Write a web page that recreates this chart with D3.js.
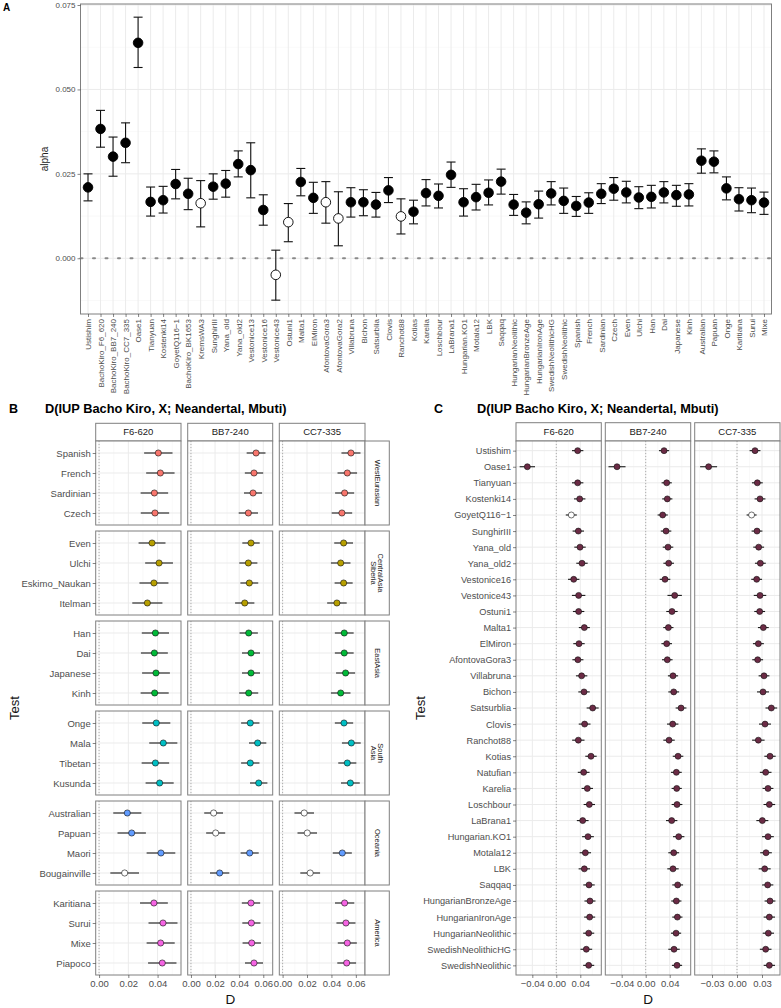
<!DOCTYPE html>
<html><head><meta charset="utf-8">
<script src="https://cdn.jsdelivr.net/npm/d3@7"></script>
<style>body{margin:0;background:#fff;} svg{display:block;font-family:"Liberation Sans",Arial,Helvetica,sans-serif;}</style>
</head><body><svg id="c" width="781" height="1008"></svg>
<script>
// ---------------- DATA ----------------
const catsA = ["Ustishim","BachoKiro_F6_620","BachoKiro_BB7_240","BachoKiro_CC7_335","Oase1","Tianyuan","Kostenki14","GoyetQ116\u22121","BachoKiro_BK1653","KremsWA3","SunghirIII","Yana_old","Yana_old2","Vestonice13","Vestonice16","Vestonice43","Ostuni1","Malta1","ElMiron","AfontovaGora3","AfontovaGora2","Villabruna","Bichon","Satsurblia","Clovis","Ranchot88","Kotias","Karelia","Loschbour","LaBrana1","Hungarian.KO1","Motala12","LBK","Saqqaq","HungarianNeolithic","HungarianBronzeAge","HungarianIronAge","SwedishNeolithicHG","SwedishNeolithic","Spanish","French","Sardinian","Czech","Even","Ulchi","Han","Dai","Japanese","Kinh","Australian","Papuan","Onge","Karitiana","Surui","Mixe"];
const alphaEst = [0.0210,0.0383,0.0301,0.0342,0.0638,0.0167,0.0172,0.0220,0.0191,0.0163,0.0212,0.0221,0.0279,0.0261,0.0143,-0.0049,0.0107,0.0226,0.0179,0.0166,0.0118,0.0166,0.0166,0.0159,0.0201,0.0124,0.0138,0.0193,0.0185,0.0247,0.0166,0.0181,0.0194,0.0227,0.0159,0.0135,0.0160,0.0192,0.0170,0.0155,0.0165,0.0191,0.0206,0.0195,0.0180,0.0182,0.0195,0.0187,0.0189,0.0289,0.0286,0.0207,0.0175,0.0172,0.0165];
const alphaLo = [0.0170,0.0329,0.0243,0.0283,0.0565,0.0125,0.0134,0.0176,0.0144,0.0093,0.0175,0.0181,0.0241,0.0179,0.0098,-0.0124,0.0049,0.0185,0.0133,0.0104,0.0037,0.0122,0.0126,0.0122,0.0165,0.0072,0.0102,0.0155,0.0149,0.0210,0.0125,0.0143,0.0158,0.0190,0.0127,0.0102,0.0119,0.0158,0.0133,0.0124,0.0133,0.0162,0.0172,0.0164,0.0147,0.0149,0.0164,0.0154,0.0155,0.0252,0.0253,0.0173,0.0140,0.0135,0.0130];
const alphaHi = [0.0250,0.0438,0.0359,0.0401,0.0714,0.0211,0.0213,0.0263,0.0237,0.0230,0.0250,0.0260,0.0318,0.0342,0.0188,0.0024,0.0162,0.0266,0.0225,0.0227,0.0197,0.0209,0.0203,0.0195,0.0239,0.0176,0.0172,0.0233,0.0220,0.0285,0.0206,0.0219,0.0232,0.0264,0.0189,0.0167,0.0199,0.0227,0.0208,0.0183,0.0194,0.0221,0.0239,0.0228,0.0212,0.0216,0.0227,0.0216,0.0221,0.0324,0.0318,0.0241,0.0209,0.0208,0.0196];
const nonsigA = ["KremsWA3","Vestonice43","Ostuni1","AfontovaGora3","AfontovaGora2","Ranchot88"];
const ticksA = [0, 0.025, 0.05, 0.075];

const samples = ["F6-620","BB7-240","CC7-335"];
const regions = ["WestEurasian","CentralAsia\nSiberia","EastAsia","South\nAsia","Oceania","America"];
const regionColors = ["#F8766D","#B79F00","#00BA38","#00BFC4","#619CFF","#F564E3"];
const popsB = [["Spanish","French","Sardinian","Czech"],["Even","Ulchi","Eskimo_Naukan","Itelman"],["Han","Dai","Japanese","Kinh"],["Onge","Mala","Tibetan","Kusunda"],["Australian","Papuan","Maori","Bougainville"],["Karitiana","Surui","Mixe","Piapoco"]];
const estB_F6 = [0.0405,0.0419,0.0378,0.0382, 0.0362,0.0410,0.0375,0.0330, 0.0385,0.0378,0.0389,0.0380, 0.0391,0.0439,0.0385,0.0414, 0.0193,0.0223,0.0423,0.0175, 0.0375,0.0437,0.0421,0.0432];
const errB_F6 = [0.0097,0.0097,0.0094,0.0097, 0.0092,0.0095,0.0099,0.0103, 0.0093,0.0092,0.0095,0.0096, 0.0096,0.0096,0.0094,0.0096, 0.0096,0.0097,0.0098,0.0098, 0.0095,0.0099,0.0096,0.0097];
const estB_BB7 = [0.0540,0.0523,0.0515,0.0476, 0.0498,0.0476,0.0484,0.0446, 0.0479,0.0498,0.0498,0.0479, 0.0492,0.0553,0.0492,0.0562, 0.0188,0.0205,0.0487,0.0238, 0.0498,0.0501,0.0504,0.0523];
const errB_BB7 = [0.0078,0.0076,0.0075,0.0080, 0.0072,0.0075,0.0074,0.0080, 0.0076,0.0075,0.0075,0.0079, 0.0076,0.0072,0.0076,0.0072, 0.0078,0.0079,0.0075,0.0080, 0.0076,0.0075,0.0076,0.0075];
const estB_CC7 = [0.0560,0.0530,0.0508,0.0486, 0.0500,0.0476,0.0500,0.0445, 0.0505,0.0505,0.0516,0.0476, 0.0503,0.0563,0.0530,0.0555, 0.0177,0.0202,0.0489,0.0226, 0.0508,0.0519,0.0530,0.0525];
const errB_CC7 = [0.0078,0.0080,0.0078,0.0084, 0.0077,0.0080,0.0074,0.0080, 0.0077,0.0077,0.0078,0.0080, 0.0075,0.0077,0.0074,0.0077, 0.0080,0.0080,0.0078,0.0081, 0.0079,0.0078,0.0078,0.0077];
const nonsigB_F6 = ["Bougainville"];
const nonsigB_BB7 = ["Australian","Papuan"];
const nonsigB_CC7 = ["Australian","Papuan","Bougainville"];
const ticksB = [0, 0.02, 0.04, 0.06];

const catsC = ["Ustishim","Oase1","Tianyuan","Kostenki14","GoyetQ116\u22121","SunghirIII","Yana_old","Yana_old2","Vestonice16","Vestonice43","Ostuni1","Malta1","ElMiron","AfontovaGora3","Villabruna","Bichon","Satsurblia","Clovis","Ranchot88","Kotias","Natufian","Karelia","Loschbour","LaBrana1","Hungarian.KO1","Motala12","LBK","Saqqaq","HungarianBronzeAge","HungarianIronAge","HungarianNeolithic","SwedishNeolithicHG","SwedishNeolithic"];
const estC_F6 = [0.0356,-0.0483,0.0356,0.0390,0.0250,0.0367,0.0395,0.0428,0.0290,0.0372,0.0372,0.0467,0.0378,0.0360,0.0422, 0.0462,0.0606,0.0472,0.0367,0.0578,0.0456,0.0517,0.0550,0.0440,0.0528,0.0484,0.0467,0.0545,0.0561,0.0556,0.0540,0.0500,0.0540];
const errC_F6 = [0.0095,0.0128,0.0095,0.0095,0.0092,0.0095,0.0095,0.0095,0.0095,0.0112,0.0095,0.0092,0.0095,0.0092,0.0095, 0.0095,0.0100,0.0098,0.0103,0.0095,0.0098,0.0095,0.0095,0.0098,0.0098,0.0095,0.0095,0.0095,0.0092,0.0092,0.0092,0.0098,0.0092];
const estC_BB7 = [0.0306,-0.0478,0.0350,0.0360,0.0283,0.0339,0.0372,0.0383,0.0322,0.0483,0.0438,0.0378,0.0350,0.0360,0.0455, 0.0467,0.0589,0.0450,0.0389,0.0539,0.0511,0.0517,0.0522,0.0433,0.0550,0.0467,0.0455,0.0533,0.0511,0.0528,0.0506,0.0472,0.0522];
const errC_BB7 = [0.0085,0.0142,0.0085,0.0085,0.0085,0.0088,0.0088,0.0088,0.0088,0.0120,0.0095,0.0085,0.0088,0.0088,0.0085, 0.0090,0.0090,0.0095,0.0095,0.0088,0.0090,0.0085,0.0090,0.0095,0.0095,0.0090,0.0095,0.0090,0.0085,0.0085,0.0085,0.0095,0.0085];
const estC_CC7 = [0.0216,-0.0341,0.0244,0.0276,0.0175,0.0240,0.0260,0.0280,0.0236,0.0276,0.0272,0.0316,0.0256,0.0248,0.0324, 0.0312,0.0412,0.0336,0.0256,0.0396,0.0344,0.0372,0.0388,0.0304,0.0372,0.0348,0.0332,0.0368,0.0396,0.0388,0.0376,0.0344,0.0388];
const errC_CC7 = [0.0065,0.0102,0.0065,0.0065,0.0060,0.0065,0.0065,0.0065,0.0065,0.0075,0.0065,0.0065,0.0065,0.0065,0.0065, 0.0072,0.0070,0.0072,0.0075,0.0068,0.0070,0.0065,0.0070,0.0072,0.0070,0.0070,0.0072,0.0068,0.0065,0.0068,0.0068,0.0070,0.0068];
const nonsigC_F6 = ["GoyetQ116\u22121"];
const nonsigC_BB7 = [];
const nonsigC_CC7 = ["GoyetQ116\u22121"];
const ticksC = [[-0.04,0,0.04],[-0.04,0,0.04],[-0.03,0,0.03]];
const colorC = "#6b2b45";

// ---------------- DRAW ----------------
const svg = d3.select("#c");
const TXT = "#4d4d4d", GRID = "#ebebeb", GRIDMIN = "#f5f5f5", BORDER = "#7f7f7f";

function hline(g, x0, x1, y, col, w) {
  g.append("line").attr("x1",x0).attr("x2",x1).attr("y1",y).attr("y2",y).attr("stroke",col).attr("stroke-width",w);
}
function vline(g, x, y0, y1, col, w) {
  g.append("line").attr("x1",x).attr("x2",x).attr("y1",y0).attr("y2",y1).attr("stroke",col).attr("stroke-width",w);
}
function styleAxis(ax, size) {
  ax.select(".domain").remove();
  ax.selectAll(".tick line").attr("stroke","#333").attr("stroke-width",0.6);
  ax.selectAll(".tick text").attr("fill",TXT).style("font-size",size+"px").style("font-family","Liberation Sans, Arial, sans-serif");
}

// ======== Panel A ========
const A = {x0:80.5, x1:771.5, y0:4, y1:314};
const xA = d3.scalePoint().domain(catsA).range([A.x0, A.x1]).padding(0.6);
const yA = d3.scaleLinear().domain([-0.0165, 0.0753]).range([A.y1, A.y0]);
const gA = svg.append("g");
[-0.0125, 0.0125, 0.0375, 0.0625].forEach(v => hline(gA, A.x0, A.x1, yA(v), GRIDMIN, 0.6));
ticksA.forEach(v => hline(gA, A.x0, A.x1, yA(v), GRID, 1));
catsA.forEach(c => vline(gA, xA(c), A.y0, A.y1, GRID, 1));
gA.append("line").attr("x1",A.x0).attr("x2",A.x1).attr("y1",yA(0)).attr("y2",yA(0))
  .attr("stroke","#8a8a8a").attr("stroke-width",2).attr("stroke-dasharray","2,10.5").attr("stroke-linecap","round");
catsA.forEach((c,i) => {
  const x = xA(c);
  vline(gA, x, yA(alphaLo[i]), yA(alphaHi[i]), "#111", 1.1);
  hline(gA, x-4.5, x+4.5, yA(alphaLo[i]), "#111", 1.1);
  hline(gA, x-4.5, x+4.5, yA(alphaHi[i]), "#111", 1.1);
  gA.append("circle").attr("cx",x).attr("cy",yA(alphaEst[i])).attr("r",4.8)
    .attr("fill", nonsigA.includes(c) ? "#fff" : "#000").attr("stroke","#000").attr("stroke-width",0.9);
});
gA.append("rect").attr("x",A.x0).attr("y",A.y0).attr("width",A.x1-A.x0).attr("height",A.y1-A.y0)
  .attr("fill","none").attr("stroke",BORDER).attr("stroke-width",1);
const axAy = gA.append("g").attr("transform",`translate(${A.x0},0)`)
  .call(d3.axisLeft(yA).tickValues(ticksA).tickFormat(d3.format(".3f")).tickSize(3).tickPadding(2));
styleAxis(axAy, 8);
const axAx = gA.append("g").attr("transform",`translate(0,${A.y1})`)
  .call(d3.axisBottom(xA).tickSize(3));
styleAxis(axAx, 8);
axAx.selectAll(".tick text").attr("transform","rotate(-90)").attr("x",-5).attr("y",0).attr("dy","0.35em").style("text-anchor","end");
svg.append("text").attr("transform",`translate(48,${(A.y0+A.y1)/2}) rotate(-90)`).attr("text-anchor","middle")
  .attr("fill","#222").style("font-size","10px").text("alpha");
svg.append("text").attr("x",3).attr("y",11).style("font-size","10px").style("font-weight","bold").attr("fill","#000").text("A");

// ======== facet helper ========
function drawFacet(g, box, xs, cats, est, err, fills, openList, r, majorX, minorX, axisLeft, axisBottom, ticks, fmt, lblSize) {
  const ys = d3.scalePoint().domain(cats).range([box.y0, box.y1]).padding(0.6);
  g.append("rect").attr("x",box.x0).attr("y",box.y0).attr("width",box.x1-box.x0).attr("height",box.y1-box.y0).attr("fill","#fff");
  minorX.forEach(v => vline(g, xs(v), box.y0, box.y1, GRIDMIN, 0.6));
  majorX.forEach(v => vline(g, xs(v), box.y0, box.y1, GRID, 1));
  cats.forEach(c => hline(g, box.x0, box.x1, ys(c), GRID, 1));
  g.append("line").attr("x1",xs(0)).attr("x2",xs(0)).attr("y1",box.y0).attr("y2",box.y1)
    .attr("stroke","#9a9a9a").attr("stroke-width",0.8).attr("stroke-dasharray","1,2");
  cats.forEach((c,i) => {
    const y = ys(c);
    hline(g, xs(est[i]-err[i]), xs(est[i]+err[i]), y, "#1a1a1a", 1.1);
    g.append("circle").attr("cx",xs(est[i])).attr("cy",y).attr("r",r)
      .attr("fill", openList.includes(c) ? "#fff" : fills).attr("stroke","#111").attr("stroke-width",0.6);
  });
  g.append("rect").attr("x",box.x0).attr("y",box.y0).attr("width",box.x1-box.x0).attr("height",box.y1-box.y0)
    .attr("fill","none").attr("stroke",BORDER).attr("stroke-width",1);
  if (axisLeft) {
    const ax = g.append("g").attr("transform",`translate(${box.x0},0)`).call(d3.axisLeft(ys).tickSize(3).tickPadding(2));
    styleAxis(ax, lblSize);
  }
  if (axisBottom) {
    const ax = g.append("g").attr("transform",`translate(0,${box.y1})`).call(d3.axisBottom(xs).tickValues(ticks).tickFormat(fmt).tickSize(3).tickPadding(2));
    styleAxis(ax, 9.5);
  }
}
function strip(g, x0, y0, w, h, label, rotate, size) {
  g.append("rect").attr("x",x0).attr("y",y0).attr("width",w).attr("height",h).attr("fill","#fff").attr("stroke",BORDER).attr("stroke-width",1);
  const lines = label.split("\n");
  if (!rotate) {
    g.append("text").attr("x",x0+w/2).attr("y",y0+h/2).attr("dy","0.35em").attr("text-anchor","middle")
      .attr("fill","#1a1a1a").style("font-size",size+"px").text(label);
  } else {
    const t = g.append("text").attr("transform",`translate(${x0+w/2},${y0+h/2}) rotate(90)`).attr("text-anchor","middle")
      .attr("fill","#1a1a1a").style("font-size",size+"px");
    const lh = size*1.05;
    lines.forEach((ln,k) => {
      t.append("tspan").attr("x",0).attr("y",(k-(lines.length-1)/2)*lh).attr("dy","0.35em").text(ln);
    });
  }
}
function gridVals(ticks, dom, half) {
  const step = ticks[1]-ticks[0];
  const out = [];
  for (let k = -4; k <= ticks.length+4; k++) {
    const v = ticks[0] + k*step + (half ? step/2 : 0);
    if (v >= dom[0] && v <= dom[1]) out.push(+v.toFixed(6));
  }
  return out;
}

// ======== Panel B ========
const gB = svg.append("g");
const colB = [[95.7,181],[187.7,272.7],[279.3,365]];
const domB = [[-0.0023,0.056],[-0.0027,0.0678],[-0.0027,0.0675]];
const ticksBcol = [[0,0.02,0.04],[0,0.02,0.04,0.06],[0,0.02,0.04,0.06]];
const estB = [estB_F6, estB_BB7, estB_CC7];
const errB = [errB_F6, errB_BB7, errB_CC7];
const nonsigB = [nonsigB_F6, nonsigB_BB7, nonsigB_CC7];
const rowTop0 = 441, rowH = 84, rowGap = 6;
samples.forEach((s,c) => {
  const xs = d3.scaleLinear().domain(domB[c]).range(colB[c]);
  strip(gB, colB[c][0], 423.3, colB[c][1]-colB[c][0], 17.7, s, false, 9.5);
  regions.forEach((reg,r) => {
    const y0 = rowTop0 + r*(rowH+rowGap);
    const start = r*4;
    drawFacet(gB, {x0:colB[c][0], x1:colB[c][1], y0:y0, y1:y0+rowH}, xs, popsB[r],
      estB[c].slice(start,start+4), errB[c].slice(start,start+4), regionColors[r], nonsigB[c], 3.1,
      gridVals(ticksB, domB[c], false), gridVals(ticksB, domB[c], true), c===0, r===regions.length-1, ticksBcol[c], d3.format(".2f"), 9.5);
  });
});
regions.forEach((reg,r) => {
  const y0 = rowTop0 + r*(rowH+rowGap);
  strip(gB, 365, y0, 24.3, rowH, reg, true, 7.5);
});
svg.append("text").attr("x",9).attr("y",412.5).style("font-size","12.5px").style("font-weight","bold").attr("fill","#000").text("B");
svg.append("text").attr("x",45).attr("y",412.5).style("font-size","12.8px").style("font-weight","bold").attr("fill","#000").text("D(IUP Bacho Kiro, X; Neandertal, Mbuti)");
svg.append("text").attr("transform",`translate(19,708) rotate(-90)`).attr("text-anchor","middle").attr("fill","#111").style("font-size","13px").text("Test");
svg.append("text").attr("x",(colB[0][0]+colB[2][1])/2).attr("y",1004).attr("text-anchor","middle").attr("fill","#111").style("font-size","13.5px").text("D");

// ======== Panel C ========
const gC = svg.append("g");
const colC = [[516,601.3],[605.3,690.7],[694.7,780]];
const domC = [[-0.0672,0.075],[-0.0673,0.075],[-0.0508,0.0516]];
const estC = [estC_F6, estC_BB7, estC_CC7];
const errC = [errC_F6, errC_BB7, errC_CC7];
const nonsigC = [nonsigC_F6, nonsigC_BB7, nonsigC_CC7];
samples.forEach((s,c) => {
  const xs = d3.scaleLinear().domain(domC[c]).range(colC[c]);
  strip(gC, colC[c][0], 422.7, colC[c][1]-colC[c][0], 18.3, s, false, 9.5);
  drawFacet(gC, {x0:colC[c][0], x1:colC[c][1], y0:441, y1:975}, xs, catsC, estC[c], errC[c], colorC, nonsigC[c], 3.0,
    gridVals(ticksC[c], domC[c], false), gridVals(ticksC[c], domC[c], true), c===0, true, ticksC[c], d3.format(".2f"), 9.2);
});
svg.append("text").attr("x",434).attr("y",413).style("font-size","12.5px").style("font-weight","bold").attr("fill","#000").text("C");
svg.append("text").attr("x",477).attr("y",413).style("font-size","12.8px").style("font-weight","bold").attr("fill","#000").text("D(IUP Bacho Kiro, X; Neandertal, Mbuti)");
svg.append("text").attr("transform",`translate(425,708) rotate(-90)`).attr("text-anchor","middle").attr("fill","#111").style("font-size","13px").text("Test");
svg.append("text").attr("x",(colC[0][0]+colC[2][1])/2).attr("y",1004).attr("text-anchor","middle").attr("fill","#111").style("font-size","13.5px").text("D");
</script></body></html>
